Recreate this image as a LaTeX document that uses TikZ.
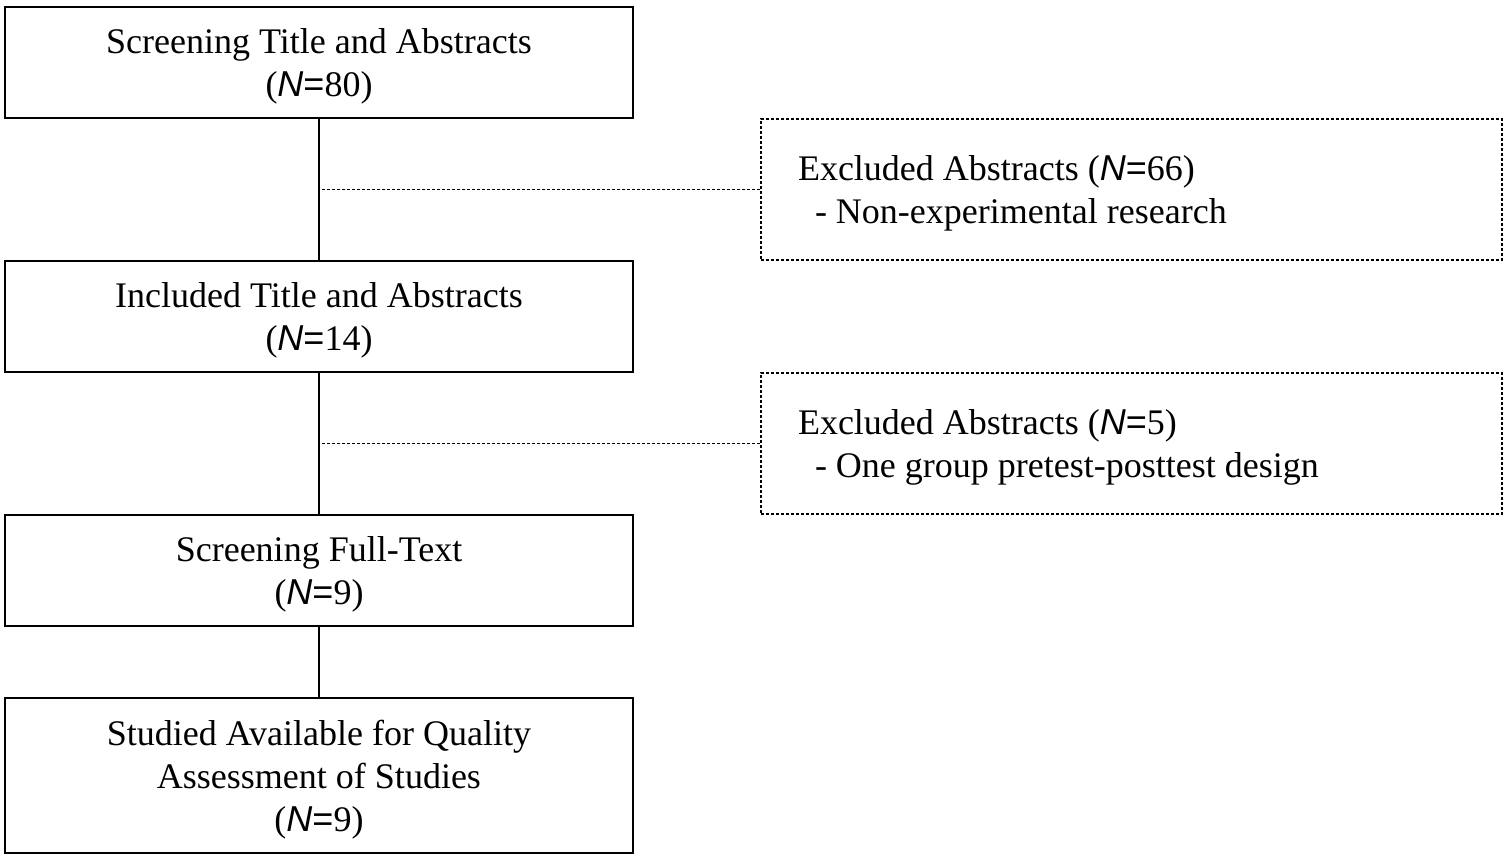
\documentclass[tikz,border=0pt]{standalone}
\usepackage{fontspec}
\setmainfont{Liberation Serif}
\setsansfont{Liberation Sans}
\newcommand{\nN}{{\sffamily\itshape N}{\sffamily =}}
\newcommand{\topgap}{\rule{0pt}{16.5pt}}

\begin{document}
\begin{tikzpicture}[x=.5pt,y=-.5pt,font=\fontsize{18}{21.5}\selectfont,line width=.6pt,
  stage/.style={draw,minimum width=314pt,minimum height=55.5pt,align=center,inner sep=0pt},
  excl/.style={draw,dash pattern=on 1.5pt off 1pt,text width=333.5pt,inner xsep=18.5pt,
    inner ysep=0pt,minimum height=70.5pt,align=flush left},
  link/.style={dash pattern=on 1.5pt off 1pt}]

\useasboundingbox (0,0) rectangle (1512,861);

\node[stage] (screen) at (319,62.5) {\topgap Screening Title and Abstracts\\(\nN80)};
\node[stage] (incl) at (319,316.5) {\topgap Included Title and Abstracts\\(\nN14)};
\node[stage] (full) at (319,570.5) {\topgap Screening Full-Text\\(\nN9)};
\node[stage,minimum height=77.5pt] (avail) at (319,775.5)
  {\topgap Studied Available for Quality\\Assessment of Studies\\(\nN9)};

\node[excl] (exA) at (1131.5,189.5) {\topgap Excluded Abstracts (\nN66)\\\hspace*{8.5pt}- Non-experimental research};
\node[excl] (exB) at (1131.5,443.5) {\topgap Excluded Abstracts (\nN5)\\\hspace*{8.5pt}- One group pretest-posttest design};

\draw (screen) -- (incl);
\draw (incl) -- (full);
\draw (full) -- (avail);

\begin{scope}[link]
\draw (exA.west) -- (exA.west -| screen.south);
\draw (exB.west) -- (exB.west -| incl.south);
\end{scope}
\end{tikzpicture}
\end{document}
